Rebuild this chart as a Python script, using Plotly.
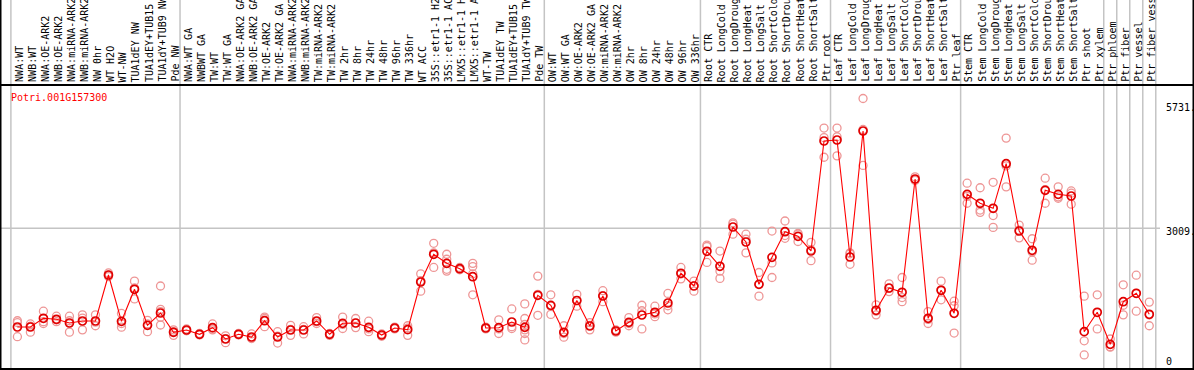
import plotly.graph_objects as go

categories = [
    "NWA:WT", "NWB:WT", "NWA:OE-ARK2", "NWB:OE-ARK2", "NWA:miRNA-ARK2", "NWB:miRNA-ARK2",
    "NW 0hr", "WT H2O", "WT-NW", "TUA1dEY NW", "TUA1dEY+TUB15", "TUA1dY+TUB9 NW", "Pde NW",
    "NWA:WT GA", "NWBWT GA", "TW:WT", "TW:WT GA", "NWA:OE-ARK2 GA", "NWB:OE-ARK2 GA",
    "TW:OE-ARK2", "TW:OE-ARK2 GA", "NWA:miRNA-ARK2", "NWB:miRNA-ARK2", "TW:miRNA-ARK2",
    "TW:miRNA-ARK2", "TW 2hr", "TW 8hr", "TW 24hr", "TW 48hr", "TW 96hr", "TW 336hr",
    "WT ACC", "35S::etr1-1 H2", "35S::etr1-1 AC", "LMX5::etr1-1 H", "LMX5::etr1-1 A",
    "WT-TW", "TUA1dEY TW", "TUA1dEY+TUB15", "TUA1dY+TUB9 TW", "Pde TW",
    "OW:WT", "OW:WT GA", "OW:OE-ARK2", "OW:OE-ARK2 GA", "OW:miRNA-ARK2", "OW:miRNA-ARK2",
    "OW 2hr", "OW 8hr", "OW 24hr", "OW 48hr", "OW 96hr", "OW 336hr",
    "Root CTR", "Root LongCold", "Root LongDroug", "Root LongHeat", "Root LongSalt",
    "Root ShortCold", "Root ShortDrou", "Root ShortHeat", "Root ShortSalt", "Ptr root",
    "Leaf CTR", "Leaf LongCold", "Leaf LongDroug", "Leaf LongHeat", "Leaf LongSalt",
    "Leaf ShortCold", "Leaf ShortDrou", "Leaf ShortHeat", "Leaf ShortSalt", "Ptr leaf",
    "Stem CTR", "Stem LongCold", "Stem LongDroug", "Stem LongHeat", "Stem LongSalt",
    "Stem ShortCold", "Stem ShortDrou", "Stem ShortHeat", "Stem ShortSalt", "Ptr shoot",
    "Ptr xylem", "Ptr phloem", "Ptr fiber", "Ptr vessel", "Ptr fiber vess",
]

means = [
    843, 843, 1034, 1012, 931, 975, 975, 1985, 968, 1671, 880, 1150, 727,
    777, 683, 828, 580, 683, 623, 981, 623, 777, 777, 975, 683, 924, 931, 836, 667,
    821, 784, 1831, 2439, 2241, 2123, 1947, 821, 828, 953, 836, 1539,
    1319, 727, 1425, 865, 1524, 755, 946, 1106, 1166, 1370, 2022, 1743,
    2505, 2176, 3038, 2709, 1780, 2373, 2935, 2834, 2512, 4926,
    4948, 2380, 5146, 1210, 1699, 1605, 4092, 1034, 1649, 1144,
    3756, 3559, 3449, 4428, 2951, 2527, 3844, 3756, 3719, 740, 1166,
    463, 1398, 1583, 1122,
]

replicates = [
    [980, 940, 630], [910, 730, 860], [1190, 920, 960], [1080, 960, 1000],
    [1080, 730, 980], [1110, 780, 1040], [1110, 870, 950], [2030, 1950, 1980],
    [1140, 840, 920], [1850, 1460, 1700], [990, 740, 910], [1743, 1232, 1180, 1056, 887],
    [780, 660, 740],
    [800, 760, 770], [700, 670, 690], [910, 780, 800], [650, 500, 590], [700, 670, 690],
    [690, 590, 600], [1060, 850, 1030], [740, 490, 640], [880, 660, 790], [850, 690, 790],
    [1050, 920, 960], [700, 660, 690], [1060, 810, 900], [1030, 830, 930], [970, 740, 800],
    [690, 640, 670], [840, 800, 820], [870, 660, 820], [2010, 1630, 1860],
    [2680, 2470, 2150], [2440, 2110, 2070, 2330], [2150, 2100, 2120], [2240, 2170, 1550, 2010],
    [840, 800, 820], [1000, 700, 800], [1240, 850, 810], [1350, 1030, 780, 700, 560, 900],
    [1960, 1100, 1560],
    [1550, 1120, 1300], [870, 620, 700], [1560, 1300, 1420], [940, 780, 880],
    [1640, 1400, 1530], [780, 730, 760], [1050, 870, 920], [1320, 800, 1200],
    [1300, 1070, 1130], [1580, 1220, 1310], [2150, 1900, 2010], [1850, 1630, 1750],
    [2640, 2260, 2610], [2510, 2070, 1910], [3130, 2880, 3100], [2880, 2470, 2770],
    [2040, 1520, 1780], [2950, 2250, 1930], [3170, 2790, 2850], [2900, 2720, 2880],
    [2700, 2300, 2540], [5210, 5000, 4570],
    [5210, 5020, 4600], [2470, 2220, 2450], [5860, 4390, 5180], [1330, 1110, 1190],
    [1790, 1620, 1690], [1930, 1400, 1490], [4140, 4080, 4060], [1180, 920, 1010],
    [1850, 1440, 1660], [1410, 710, 1310],
    [4000, 3560, 3710], [3900, 3410, 3360], [4020, 3290, 3030], [4990, 3920, 4380],
    [3080, 2800, 2970], [2780, 2310, 2490], [4110, 3560, 3860], [3920, 3670, 3700],
    [3830, 3540, 3780], [1520, 540, 230], [1550, 800],
    [580, 400, 410], [1770, 1110, 1320], [1980, 1190, 1580], [1390, 870, 1110],
]

gene_id = "Potri.001G157300"
axis_labels = ["5731.", "3009.", "0"]
axis_values = [5731, 3009, 0]
group_bounds = [-0.5, 12.5, 40.5, 52.5, 62.5, 72.5, 83.5, 84.5, 85.5, 86.5, 87.5]

W, H = 1194, 370
X0, DX = 17.4, 13.01          # pixel centre of first column, column spacing
Y0, DY = 365.4, 0.04555        # pixel of value 0, pixels per unit

xr = [-X0 / DX, (W - X0) / DX]
yr = [(Y0 - H) / DY, Y0 / DY]

def py(px):
    return 1 - px / H

fig = go.Figure()

rx, ry = [], []
for i, reps in enumerate(replicates):
    for v in reps:
        rx.append(i)
        ry.append(v)

fig.add_trace(go.Scatter(
    x=rx, y=ry, mode="markers",
    marker=dict(symbol="circle-open", size=8, color="rgb(238,150,150)",
                line=dict(width=1.3, color="rgb(238,150,150)")),
    hoverinfo="skip", showlegend=False))

fig.add_trace(go.Scatter(
    x=list(range(len(means))), y=means, mode="lines+markers",
    line=dict(color="#ff0000", width=1.1),
    marker=dict(symbol="circle-open", size=8, color="#e00000",
                line=dict(width=1.7, color="#e00000")),
    showlegend=False))

shapes = []
for b in group_bounds:
    shapes.append(dict(type="line", xref="x", yref="paper", x0=b, x1=b, y0=py(369), y1=1,
                       line=dict(color="#c4c4c4", width=1.5), layer="below"))
shapes.append(dict(type="line", xref="paper", yref="y", x0=0, x1=1160 / W, y0=3009, y1=3009,
                   line=dict(color="#c4c4c4", width=1.5), layer="below"))
shapes.append(dict(type="line", xref="paper", yref="paper", x0=0, x1=1, y0=py(85), y1=py(85),
                   line=dict(color="black", width=2)))
shapes.append(dict(type="line", xref="paper", yref="paper", x0=0, x1=1, y0=py(369), y1=py(369),
                   line=dict(color="black", width=2)))
shapes.append(dict(type="line", xref="paper", yref="paper", x0=0.5 / W, x1=0.5 / W, y0=0, y1=1,
                   line=dict(color="black", width=2)))
shapes.append(dict(type="line", xref="paper", yref="paper", x0=1 - 0.5 / W, x1=1 - 0.5 / W, y0=py(369), y1=1,
                   line=dict(color="black", width=2)))

annotations = []
for i, c in enumerate(categories):
    annotations.append(dict(x=i, xref="x", y=py(83), yref="paper", text=c, showarrow=False,
                            textangle=-90, xanchor="center", yanchor="bottom", xshift=1.5,
                            font=dict(family="DejaVu Sans Mono", size=10, color="black"),
                            borderpad=0))
annotations.append(dict(x=9 / W, xref="paper", y=py(97), yref="paper", text=gene_id,
                        showarrow=False, xanchor="left", yanchor="middle",
                        font=dict(family="DejaVu Sans Mono", size=10, color="#ff0000")))
label_px = [107.7, 231.7, 361.7]
for lab, v, lp in zip(axis_labels, axis_values, label_px):
    annotations.append(dict(x=1164 / W, xref="paper", y=py(lp), yref="paper", text=lab,
                            showarrow=False, xanchor="left", yanchor="middle",
                            font=dict(family="DejaVu Sans Mono", size=10, color="black")))

fig.update_layout(
    width=W, height=H, margin=dict(l=0, r=0, t=0, b=0),
    paper_bgcolor="white", plot_bgcolor="white",
    xaxis=dict(range=xr, visible=False, fixedrange=True),
    yaxis=dict(range=yr, visible=False, fixedrange=True),
    shapes=shapes, annotations=annotations,
)

fig.write_html("out.html", config={"displayModeBar": False},
               post_script="document.body.style.margin='0';document.body.style.overflow='hidden';")
